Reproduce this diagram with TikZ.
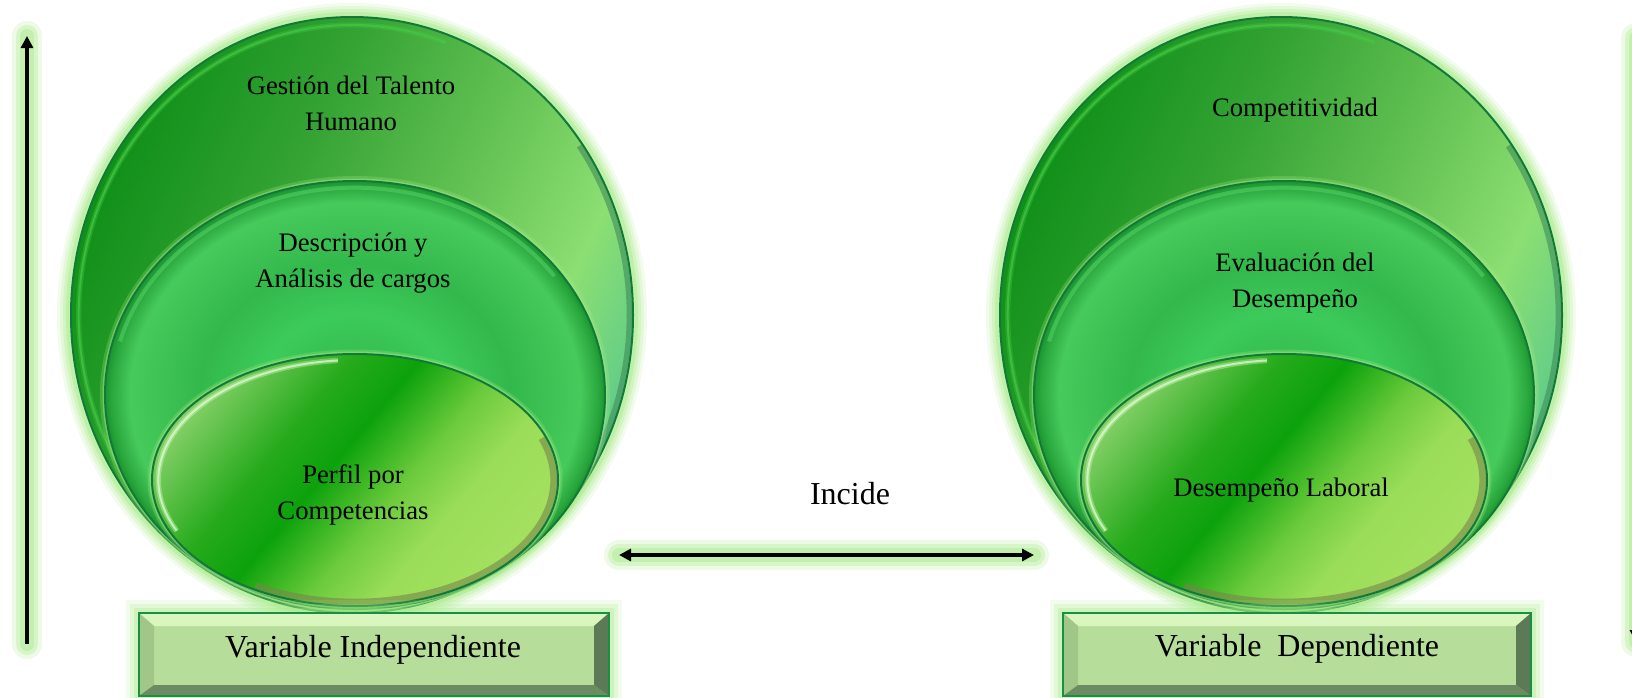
\documentclass[tikz,border=0pt]{standalone}
\usepackage{fontspec}
\setmainfont{Liberation Serif}
\usetikzlibrary{arrows.meta}
\definecolor{glowg}{HTML}{A6EA86}
\definecolor{edgeg}{HTML}{127A38}
\definecolor{og1}{HTML}{0F8F18}
\definecolor{og2}{HTML}{34A334}
\definecolor{og3}{HTML}{66C355}
\definecolor{og4}{HTML}{8CDF72}
\definecolor{og5}{HTML}{5ECB8A}
\definecolor{mg0}{HTML}{2FB347}
\definecolor{mg1}{HTML}{3CCB5A}
\definecolor{mg2}{HTML}{33B84B}
\definecolor{mg3}{HTML}{47CA5C}
\definecolor{mg4}{HTML}{2AA83E}
\definecolor{mg5}{HTML}{1C9530}
\definecolor{ig1}{HTML}{80CE64}
\definecolor{ig2}{HTML}{26AA1C}
\definecolor{ig3}{HTML}{0CA20C}
\definecolor{ig4}{HTML}{6CCB3C}
\definecolor{ig5}{HTML}{9ADD58}
\definecolor{ig6}{HTML}{A4E060}
\definecolor{hiwhite}{HTML}{E2FFD2}
\definecolor{olive}{HTML}{77864A}
\definecolor{rimdark}{HTML}{3F8C5A}
\definecolor{rimlight}{HTML}{45C845}
\definecolor{midlight}{HTML}{62DA72}
\definecolor{bxface}{HTML}{B6DD99}
\definecolor{bxtop}{HTML}{D9F6BF}
\definecolor{bxleft}{HTML}{A0C688}
\definecolor{bxright}{HTML}{5C7A55}
\definecolor{bxbot}{HTML}{6C8B60}
\definecolor{bxedge}{HTML}{178F45}
\pgfdeclarehorizontalshading{outersh}{100bp}{color(0bp)=(og1); color(25bp)=(og1); color(40bp)=(og2); color(55bp)=(og3); color(66bp)=(og4); color(75bp)=(og5); color(100bp)=(og5)}
\pgfdeclareradialshading{midsh}{\pgfpoint{0bp}{0bp}}{color(0bp)=(mg0); color(9.5bp)=(mg1); color(15.5bp)=(mg2); color(22.5bp)=(mg3); color(24.3bp)=(mg4); color(25bp)=(mg5); color(50bp)=(mg5)}
\pgfdeclarehorizontalshading{innersh}{100bp}{color(0bp)=(ig1); color(25bp)=(ig1); color(38bp)=(ig2); color(46bp)=(ig3); color(56bp)=(ig4); color(64bp)=(ig5); color(75bp)=(ig6); color(100bp)=(ig6)}

\newcommand{\ovalgroup}[2]{%
\begin{scope}[shift={(#2,0)}]
 \coordinate (#1-o) at (352,315);
 \coordinate (#1-m) at (355,395);
 \coordinate (#1-i) at (355,480);
 \foreach \w/\op in {28/0.14,22/0.2,16/0.28,10/0.4}{%
   \path[draw=glowg, line width=\w*0.75pt, opacity=\op] (#1-o) ellipse[x radius=210.75pt, y radius=223.5pt];}
 \path[shading=outersh, shading angle=-25] (#1-o) ellipse[x radius=210.75pt, y radius=223.5pt];
 \draw[rimlight, line width=4pt, opacity=0.35] ([shift={(70:205pt and 217.5pt)}]#1-o) arc[start angle=70, end angle=215, x radius=205pt, y radius=217.5pt];
 \draw[rimlight, line width=1.5pt, opacity=0.7] ([shift={(70:205pt and 217.5pt)}]#1-o) arc[start angle=70, end angle=215, x radius=205pt, y radius=217.5pt];
 \draw[rimdark, line width=4pt, opacity=0.6] ([shift={(-70:208pt and 221pt)}]#1-o) arc[start angle=-70, end angle=35, x radius=208pt, y radius=221pt];
 \draw[edgeline] (#1-o) ellipse[x radius=210.75pt, y radius=223.5pt];
 \foreach \w/\op in {10/0.25,5/0.45}{%
   \path[draw=glowg, line width=\w*0.75pt, opacity=\op] (#1-m) ellipse[x radius=187.5pt, y radius=160.5pt];}
 \path[shading=midsh] (#1-m) ellipse[x radius=187.5pt, y radius=160.5pt];
 \draw[midlight, line width=3pt, opacity=0.45] ([shift={(35:182.5pt and 155.5pt)}]#1-m) arc[start angle=35, end angle=165, x radius=182.5pt, y radius=155.5pt];
 \draw[edgeline] (#1-m) ellipse[x radius=187.5pt, y radius=160.5pt];
 \foreach \w/\op in {9/0.25,5/0.45}{%
   \path[draw=glowg, line width=\w*0.75pt, opacity=\op] (#1-i) ellipse[x radius=152.25pt, y radius=94.5pt];}
 \path[shading=innersh, shading angle=-40] (#1-i) ellipse[x radius=152.25pt, y radius=94.5pt];
 \draw[olive, line width=5pt, opacity=0.6] ([shift={(-120:149pt and 91.5pt)}]#1-i) arc[start angle=-120, end angle=20, x radius=149pt, y radius=91.5pt];
 \draw[hiwhite, line width=4pt, opacity=0.35] ([shift={(95:147.5pt and 90pt)}]#1-i) arc[start angle=95, end angle=205, x radius=147.5pt, y radius=90pt];
 \draw[hiwhite, line width=1.5pt, opacity=0.7] ([shift={(95:147.5pt and 90pt)}]#1-i) arc[start angle=95, end angle=205, x radius=147.5pt, y radius=90pt];
 \draw[edgeline] (#1-i) ellipse[x radius=152.25pt, y radius=94.5pt];
\end{scope}}

\newcommand{\bevelbox}[5]{%
 \coordinate (#1-a) at (#2,#3);
 \coordinate (#1-b) at (#4,#5);
 \foreach \w/\op in {26/0.14,18/0.22,10/0.32}{%
   \path[draw=glowg, line width=\w*0.75pt, opacity=\op] (#1-a) rectangle (#1-b);}
 \fill[bxface] (#1-a) rectangle (#1-b);
 \fill[bxtop] (#2,#3) -- (#4,#3) -- ({#4-15},{#3+13}) -- ({#2+15},{#3+13}) -- cycle;
 \fill[bxleft] (#2,#3) -- ({#2+15},{#3+13}) -- ({#2+15},{#5-11}) -- (#2,#5) -- cycle;
 \fill[bxright] (#4,#3) -- ({#4-15},{#3+13}) -- ({#4-15},{#5-11}) -- (#4,#5) -- cycle;
 \fill[bxbot] (#2,#5) -- ({#2+15},{#5-11}) -- ({#4-15},{#5-11}) -- (#4,#5) -- cycle;
 \draw[bxedge, line width=1.6pt] (#1-a) rectangle (#1-b);
}

\begin{document}
\begin{tikzpicture}[x=0.75pt,y=-0.75pt,
  txt/.style={font=\fontsize{20}{27}\selectfont, align=center, inner sep=0pt},
  boxtxt/.style={font=\fontsize{24}{28}\selectfont, inner sep=0pt},
  edgeline/.style={draw=edgeg, line width=1.5pt},
  arrowline/.style={line width=2.4pt, draw=black, -{Triangle[length=9pt,width=9pt]}},
  dblarrow/.style={line width=2.4pt, draw=black, {Triangle[length=9pt,width=9pt]}-{Triangle[length=9pt,width=9pt]}},
  glowA/.style={draw=glowg, line width=30*0.75pt, opacity=0.2, line cap=round},
  glowB/.style={draw=glowg, line width=22*0.75pt, opacity=0.3, line cap=round},
  glowC/.style={draw=glowg, line width=14*0.75pt, opacity=0.4, line cap=round},
]
\useasboundingbox (0,0) rectangle (1632,697);
\fill[white] (0,0) rectangle (1632,697);

% arrows
\coordinate (la1) at (27,644);
\coordinate (la2) at (27,36);
\coordinate (ra1) at (1636,38);
\coordinate (ra2) at (1636,642);
\coordinate (ma1) at (619,555);
\coordinate (ma2) at (1034,555);
\foreach \g in {glowA,glowB,glowC}{%
  \path[\g] (la1) -- (la2);
  \path[\g] (ra1) -- (ra2);
  \path[\g] (ma1) -- (ma2);}
\draw[arrowline] (la1) -- (la2);
\draw[arrowline] (ra1) -- (ra2);
\draw[dblarrow] (ma1) -- (ma2);

\ovalgroup{L}{0}
\ovalgroup{R}{929}

\bevelbox{bl}{139}{613}{609}{696}
\bevelbox{br}{1063}{613}{1531}{696}

\node[txt] (gth) at (351,103) {Gestión del Talento\\Humano};
\node[txt] (dac) at (353,263) {Descripción y\\Análisis de cargos};
\node[txt] (ppc) at (353,495) {Perfil por\\Competencias};
\node[txt] (comp) at (1295,110) {Competitividad};
\node[txt] (eval) at (1295,283) {Evaluación del\\Desempeño};
\node[txt] (dlab) at (1281,490) {Desempeño Laboral};
\node[boxtxt] (vi) at (373,650) {Variable Independiente};
\node[boxtxt] (vd) at (1297,649) {Variable\ \ Dependiente};
\node[boxtxt] (inc) at (850,494) {Incide};
\end{tikzpicture}
\end{document}
